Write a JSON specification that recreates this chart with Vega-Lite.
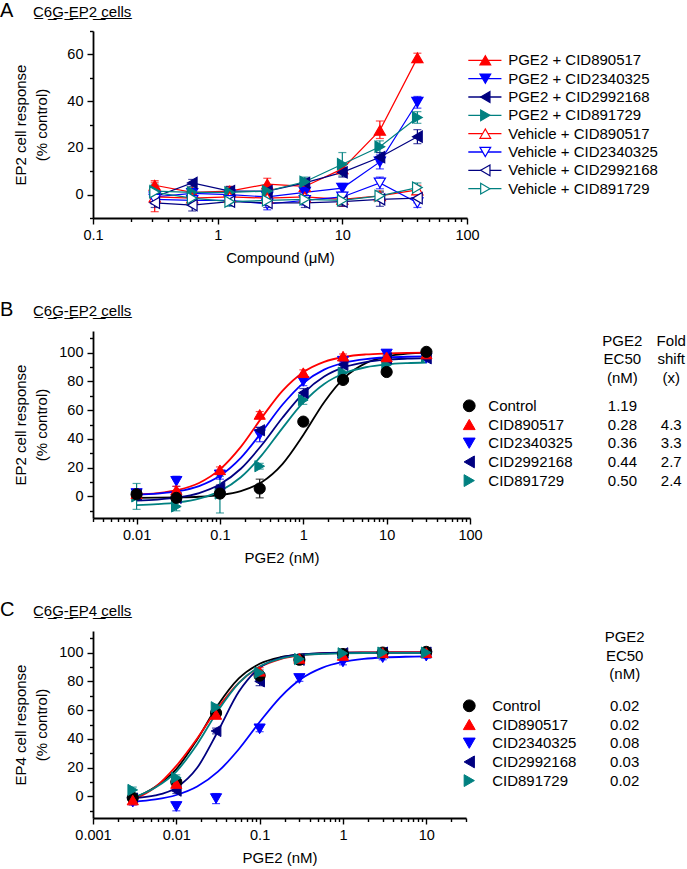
{
  "$schema": "https://vega.github.io/schema/vega-lite/v6.json",
  "background": "white",
  "padding": {"left": 0, "top": 1, "right": 0, "bottom": 0},
  "config": {
    "font": "Liberation Sans",
    "view": {"stroke": null},
    "axis": {"grid": false, "domainColor": "black", "domainWidth": 1.8, "tickColor": "black", "tickWidth": 1.4, "labelColor": "black", "labelFontSize": 14.5, "labelPadding": 4, "titleColor": "black", "titleFontSize": 15, "titleFontWeight": "normal", "labelFlush": false, "labelOverlap": false, "titleLineHeight": 21},
    "axisY": {"minExtent": 32, "maxExtent": 32, "titlePadding": 12},
    "axisX": {"titlePadding": 9},
    "legend": {"disable": true},
    "title": {"anchor": "start", "frame": "bounds", "fontWeight": "normal", "color": "black"}
  },
  "resolve": {"scale": {"color": "independent", "shape": "independent", "fill": "independent", "stroke": "independent"}},
  "datasets": {
    "a_pts": [
      {"series":"PGE2 + CID890517","conc":0.3125,"resp":4,"lo":2,"hi":6},
      {"series":"PGE2 + CID890517","conc":0.625,"resp":1,"lo":-0.5,"hi":2.5},
      {"series":"PGE2 + CID890517","conc":1.25,"resp":1.5,"lo":-0.5,"hi":3.5},
      {"series":"PGE2 + CID890517","conc":2.5,"resp":4.5,"lo":2,"hi":7},
      {"series":"PGE2 + CID890517","conc":5,"resp":3.5,"lo":1.5,"hi":5.5},
      {"series":"PGE2 + CID890517","conc":10,"resp":11,"lo":9,"hi":13},
      {"series":"PGE2 + CID890517","conc":20,"resp":27.5,"lo":24,"hi":31.5},
      {"series":"PGE2 + CID890517","conc":40,"resp":58.5,"lo":56.5,"hi":60.5},
      {"series":"PGE2 + CID2340325","conc":0.3125,"resp":-1,"lo":-3,"hi":1},
      {"series":"PGE2 + CID2340325","conc":0.625,"resp":0.5,"lo":-1.5,"hi":2.5},
      {"series":"PGE2 + CID2340325","conc":1.25,"resp":0,"lo":-2,"hi":2},
      {"series":"PGE2 + CID2340325","conc":2.5,"resp":-1,"lo":-3,"hi":1},
      {"series":"PGE2 + CID2340325","conc":5,"resp":1,"lo":-1,"hi":3},
      {"series":"PGE2 + CID2340325","conc":10,"resp":2.8,"lo":0.8,"hi":4.8},
      {"series":"PGE2 + CID2340325","conc":20,"resp":14,"lo":11,"hi":17},
      {"series":"PGE2 + CID2340325","conc":40,"resp":39.5,"lo":37,"hi":42},
      {"series":"PGE2 + CID2992168","conc":0.3125,"resp":-1,"lo":-3,"hi":1},
      {"series":"PGE2 + CID2992168","conc":0.625,"resp":5,"lo":3.5,"hi":6.5},
      {"series":"PGE2 + CID2992168","conc":1.25,"resp":1.5,"lo":-0.5,"hi":3.5},
      {"series":"PGE2 + CID2992168","conc":2.5,"resp":1.5,"lo":-0.5,"hi":3.5},
      {"series":"PGE2 + CID2992168","conc":5,"resp":5,"lo":3,"hi":7},
      {"series":"PGE2 + CID2992168","conc":10,"resp":9.5,"lo":7.5,"hi":11.5},
      {"series":"PGE2 + CID2992168","conc":20,"resp":16,"lo":14,"hi":18},
      {"series":"PGE2 + CID2992168","conc":40,"resp":24.8,"lo":21.8,"hi":27.8},
      {"series":"PGE2 + CID891729","conc":0.3125,"resp":1.5,"lo":-1.5,"hi":4.5},
      {"series":"PGE2 + CID891729","conc":0.625,"resp":1,"lo":-1,"hi":3},
      {"series":"PGE2 + CID891729","conc":1.25,"resp":1,"lo":-1,"hi":3},
      {"series":"PGE2 + CID891729","conc":2.5,"resp":1.5,"lo":-1,"hi":4},
      {"series":"PGE2 + CID891729","conc":5,"resp":5.5,"lo":3.5,"hi":7.5},
      {"series":"PGE2 + CID891729","conc":10,"resp":13,"lo":8,"hi":18},
      {"series":"PGE2 + CID891729","conc":20,"resp":20.5,"lo":18,"hi":23},
      {"series":"PGE2 + CID891729","conc":40,"resp":33,"lo":30.5,"hi":35.5},
      {"series":"Vehicle + CID890517","conc":0.3125,"resp":-1,"lo":-7.3,"hi":5.3},
      {"series":"Vehicle + CID890517","conc":0.625,"resp":-1.5,"lo":-3.5,"hi":0.5},
      {"series":"Vehicle + CID890517","conc":1.25,"resp":-1,"lo":-3,"hi":1},
      {"series":"Vehicle + CID890517","conc":2.5,"resp":-1.5,"lo":-4,"hi":1},
      {"series":"Vehicle + CID890517","conc":5,"resp":-1,"lo":-3,"hi":1},
      {"series":"Vehicle + CID890517","conc":10,"resp":-2,"lo":-5,"hi":1},
      {"series":"Vehicle + CID890517","conc":20,"resp":-0.5,"lo":-2.5,"hi":1.5},
      {"series":"Vehicle + CID890517","conc":40,"resp":2,"lo":0,"hi":4},
      {"series":"Vehicle + CID2340325","conc":0.3125,"resp":-2,"lo":-4,"hi":0},
      {"series":"Vehicle + CID2340325","conc":0.625,"resp":-2.5,"lo":-4.5,"hi":-0.5},
      {"series":"Vehicle + CID2340325","conc":1.25,"resp":-2.5,"lo":-4,"hi":-1},
      {"series":"Vehicle + CID2340325","conc":2.5,"resp":-4,"lo":-6.5,"hi":-1.5},
      {"series":"Vehicle + CID2340325","conc":5,"resp":-2.5,"lo":-4.5,"hi":-0.5},
      {"series":"Vehicle + CID2340325","conc":10,"resp":-1,"lo":-3,"hi":1},
      {"series":"Vehicle + CID2340325","conc":20,"resp":5,"lo":2.5,"hi":7.5},
      {"series":"Vehicle + CID2340325","conc":40,"resp":-3.5,"lo":-5.5,"hi":-1.5},
      {"series":"Vehicle + CID2992168","conc":0.3125,"resp":-3.5,"lo":-5.5,"hi":-1.5},
      {"series":"Vehicle + CID2992168","conc":0.625,"resp":-4.5,"lo":-7,"hi":-2},
      {"series":"Vehicle + CID2992168","conc":1.25,"resp":-3,"lo":-4.5,"hi":-1.5},
      {"series":"Vehicle + CID2992168","conc":2.5,"resp":-3.5,"lo":-5.5,"hi":-1.5},
      {"series":"Vehicle + CID2992168","conc":5,"resp":-3.5,"lo":-5.5,"hi":-1.5},
      {"series":"Vehicle + CID2992168","conc":10,"resp":-3,"lo":-5,"hi":-1},
      {"series":"Vehicle + CID2992168","conc":20,"resp":-2,"lo":-5,"hi":1},
      {"series":"Vehicle + CID2992168","conc":40,"resp":-1.5,"lo":-3.5,"hi":0.5},
      {"series":"Vehicle + CID891729","conc":0.3125,"resp":1,"lo":-2,"hi":4},
      {"series":"Vehicle + CID891729","conc":0.625,"resp":-1.5,"lo":-3.5,"hi":0.5},
      {"series":"Vehicle + CID891729","conc":1.25,"resp":-3,"lo":-5,"hi":-1},
      {"series":"Vehicle + CID891729","conc":2.5,"resp":-2.5,"lo":-4.5,"hi":-0.5},
      {"series":"Vehicle + CID891729","conc":5,"resp":-2,"lo":-4,"hi":0},
      {"series":"Vehicle + CID891729","conc":10,"resp":-2.5,"lo":-4.5,"hi":-0.5},
      {"series":"Vehicle + CID891729","conc":20,"resp":-0.5,"lo":-2.5,"hi":1.5},
      {"series":"Vehicle + CID891729","conc":40,"resp":3,"lo":1,"hi":5}
    ],
    "a_leg": [
      {"series":"PGE2 + CID890517"},{"series":"PGE2 + CID2340325"},{"series":"PGE2 + CID2992168"},{"series":"PGE2 + CID891729"},
      {"series":"Vehicle + CID890517"},{"series":"Vehicle + CID2340325"},{"series":"Vehicle + CID2992168"},{"series":"Vehicle + CID891729"}
    ],
    "b_pts": [
      {"series":"CID891729","conc":0.01,"resp":0,"lo":-9,"hi":9},
      {"series":"CID891729","conc":0.03,"resp":-7,"lo":-10,"hi":-4},
      {"series":"CID891729","conc":0.1,"resp":2,"lo":-11.5,"hi":14},
      {"series":"CID891729","conc":0.3,"resp":21,"lo":19,"hi":23},
      {"series":"CID891729","conc":1,"resp":67,"lo":64,"hi":70},
      {"series":"CID891729","conc":3,"resp":86,"lo":84,"hi":88},
      {"series":"CID891729","conc":10,"resp":91.5,"lo":89.5,"hi":93.5},
      {"series":"CID891729","conc":30,"resp":97,"lo":95.5,"hi":98.5},
      {"series":"CID2340325","conc":0.01,"resp":2,"lo":0,"hi":4},
      {"series":"CID2340325","conc":0.03,"resp":10.5,"lo":7,"hi":14},
      {"series":"CID2340325","conc":0.1,"resp":15,"lo":12,"hi":18},
      {"series":"CID2340325","conc":0.3,"resp":43,"lo":38,"hi":48},
      {"series":"CID2340325","conc":1,"resp":80,"lo":77,"hi":83},
      {"series":"CID2340325","conc":3,"resp":94,"lo":92,"hi":96},
      {"series":"CID2340325","conc":10,"resp":99,"lo":96,"hi":102},
      {"series":"CID2340325","conc":30,"resp":96,"lo":94.5,"hi":97.5},
      {"series":"CID2992168","conc":0.01,"resp":1,"lo":-1,"hi":3},
      {"series":"CID2992168","conc":0.03,"resp":-1,"lo":-3,"hi":1},
      {"series":"CID2992168","conc":0.1,"resp":6,"lo":4,"hi":8},
      {"series":"CID2992168","conc":0.3,"resp":46,"lo":44,"hi":48},
      {"series":"CID2992168","conc":1,"resp":72,"lo":69,"hi":75},
      {"series":"CID2992168","conc":3,"resp":91.5,"lo":89.5,"hi":93.5},
      {"series":"CID2992168","conc":10,"resp":96,"lo":94,"hi":98},
      {"series":"CID2992168","conc":30,"resp":96,"lo":94.5,"hi":97.5},
      {"series":"CID890517","conc":0.01,"resp":2,"lo":-1,"hi":5},
      {"series":"CID890517","conc":0.03,"resp":4.5,"lo":2,"hi":7},
      {"series":"CID890517","conc":0.1,"resp":18.5,"lo":16.5,"hi":20.5},
      {"series":"CID890517","conc":0.3,"resp":57,"lo":55,"hi":59},
      {"series":"CID890517","conc":1,"resp":86,"lo":84,"hi":88},
      {"series":"CID890517","conc":3,"resp":97.5,"lo":96,"hi":99},
      {"series":"CID890517","conc":10,"resp":97,"lo":95,"hi":99},
      {"series":"CID890517","conc":30,"resp":99,"lo":97.5,"hi":100.5},
      {"series":"Control","conc":0.01,"resp":1.5,"lo":-0.5,"hi":3.5},
      {"series":"Control","conc":0.03,"resp":-1,"lo":-3,"hi":1},
      {"series":"Control","conc":0.1,"resp":2,"lo":0,"hi":4},
      {"series":"Control","conc":0.3,"resp":5.5,"lo":-1,"hi":12},
      {"series":"Control","conc":1,"resp":52,"lo":50,"hi":54},
      {"series":"Control","conc":3,"resp":81,"lo":79,"hi":83},
      {"series":"Control","conc":10,"resp":86.5,"lo":84.5,"hi":88.5},
      {"series":"Control","conc":30,"resp":100.5,"lo":99,"hi":102}
    ],
    "b_fit": [
      {"series":"Control","conc":0.01,"resp":-0.95},{"series":"Control","conc":0.0178,"resp":-0.88},{"series":"Control","conc":0.0316,"resp":-0.69},{"series":"Control","conc":0.0562,"resp":-0.24},{"series":"Control","conc":0.1,"resp":0.9},{"series":"Control","conc":0.178,"resp":3.63},{"series":"Control","conc":0.316,"resp":9.87},{"series":"Control","conc":0.562,"resp":22.5},{"series":"Control","conc":1,"resp":42.7},{"series":"Control","conc":1.78,"resp":65.5},{"series":"Control","conc":3.16,"resp":82.9},{"series":"Control","conc":5.62,"resp":92.7},{"series":"Control","conc":10,"resp":97.2},{"series":"Control","conc":17.8,"resp":99.2},{"series":"Control","conc":30,"resp":99.9},
      {"series":"CID890517","conc":0.01,"resp":1.29},{"series":"CID890517","conc":0.0178,"resp":2.3},{"series":"CID890517","conc":0.0316,"resp":4.55},{"series":"CID890517","conc":0.0562,"resp":9.35},{"series":"CID890517","conc":0.1,"resp":18.76},{"series":"CID890517","conc":0.178,"resp":34.4},{"series":"CID890517","conc":0.316,"resp":54.6},{"series":"CID890517","conc":0.562,"resp":73.4},{"series":"CID890517","conc":1,"resp":86.4},{"series":"CID890517","conc":1.78,"resp":93.6},{"series":"CID890517","conc":3.16,"resp":97.1},{"series":"CID890517","conc":5.62,"resp":98.7},{"series":"CID890517","conc":10,"resp":99.4},{"series":"CID890517","conc":17.8,"resp":99.8},{"series":"CID890517","conc":30,"resp":99.9},
      {"series":"CID2340325","conc":0.01,"resp":1.14},{"series":"CID2340325","conc":0.0178,"resp":1.92},{"series":"CID2340325","conc":0.0316,"resp":3.62},{"series":"CID2340325","conc":0.0562,"resp":7.22},{"series":"CID2340325","conc":0.1,"resp":14.36},{"series":"CID2340325","conc":0.178,"resp":26.85},{"series":"CID2340325","conc":0.316,"resp":44.6},{"series":"CID2340325","conc":0.562,"resp":63.7},{"series":"CID2340325","conc":1,"resp":78.8},{"series":"CID2340325","conc":1.78,"resp":88.15},{"series":"CID2340325","conc":3.16,"resp":93.1},{"series":"CID2340325","conc":5.62,"resp":95.5},{"series":"CID2340325","conc":10,"resp":96.6},{"series":"CID2340325","conc":17.8,"resp":97.1},{"series":"CID2340325","conc":30,"resp":97.3},
      {"series":"CID2992168","conc":0.01,"resp":-2.9},{"series":"CID2992168","conc":0.0178,"resp":-2.2},{"series":"CID2992168","conc":0.0316,"resp":-0.71},{"series":"CID2992168","conc":0.0562,"resp":2.36},{"series":"CID2992168","conc":0.1,"resp":8.43},{"series":"CID2992168","conc":0.178,"resp":19.25},{"series":"CID2992168","conc":0.316,"resp":35.56},{"series":"CID2992168","conc":0.562,"resp":54.7},{"series":"CID2992168","conc":1,"resp":71.7},{"series":"CID2992168","conc":1.78,"resp":83.3},{"series":"CID2992168","conc":3.16,"resp":90},{"series":"CID2992168","conc":5.62,"resp":93.4},{"series":"CID2992168","conc":10,"resp":95.05},{"series":"CID2992168","conc":17.8,"resp":95.8},{"series":"CID2992168","conc":30,"resp":96.2},
      {"series":"CID891729","conc":0.01,"resp":-6},{"series":"CID891729","conc":0.0178,"resp":-5.4},{"series":"CID891729","conc":0.0316,"resp":-4.15},{"series":"CID891729","conc":0.0562,"resp":-1.52},{"series":"CID891729","conc":0.1,"resp":3.71},{"series":"CID891729","conc":0.178,"resp":13.3},{"series":"CID891729","conc":0.316,"resp":28.5},{"series":"CID891729","conc":0.562,"resp":47.5},{"series":"CID891729","conc":1,"resp":65.3},{"series":"CID891729","conc":1.78,"resp":78.2},{"series":"CID891729","conc":3.16,"resp":85.8},{"series":"CID891729","conc":5.62,"resp":89.8},{"series":"CID891729","conc":10,"resp":91.8},{"series":"CID891729","conc":17.8,"resp":92.7},{"series":"CID891729","conc":30,"resp":93.1}
    ],
    "b_leg": [
      {"series":"Control","ec50":"1.19","fold":""},
      {"series":"CID890517","ec50":"0.28","fold":"4.3"},
      {"series":"CID2340325","ec50":"0.36","fold":"3.3"},
      {"series":"CID2992168","ec50":"0.44","fold":"2.7"},
      {"series":"CID891729","ec50":"0.50","fold":"2.4"}
    ],
    "c_pts": [
      {"series":"CID2340325","conc":0.003,"resp":-4,"lo":-6,"hi":-2},
      {"series":"CID2340325","conc":0.01,"resp":-7,"lo":-10,"hi":-4},
      {"series":"CID2340325","conc":0.03,"resp":-1.5,"lo":-5,"hi":2},
      {"series":"CID2340325","conc":0.1,"resp":47,"lo":45,"hi":49},
      {"series":"CID2340325","conc":0.3,"resp":82,"lo":80,"hi":84},
      {"series":"CID2340325","conc":1,"resp":93.5,"lo":91.5,"hi":95.5},
      {"series":"CID2340325","conc":3,"resp":96.5,"lo":95,"hi":98},
      {"series":"CID2340325","conc":10,"resp":97.5,"lo":96,"hi":99},
      {"series":"CID2992168","conc":0.003,"resp":-1.5,"lo":-3.5,"hi":0.5},
      {"series":"CID2992168","conc":0.01,"resp":4,"lo":2,"hi":6},
      {"series":"CID2992168","conc":0.03,"resp":45.5,"lo":43.5,"hi":47.5},
      {"series":"CID2992168","conc":0.1,"resp":80,"lo":77,"hi":83},
      {"series":"CID2992168","conc":0.3,"resp":95,"lo":93,"hi":97},
      {"series":"CID2992168","conc":1,"resp":99.5,"lo":98.5,"hi":100.5},
      {"series":"CID2992168","conc":3,"resp":100,"lo":99,"hi":101},
      {"series":"CID2992168","conc":10,"resp":100,"lo":99,"hi":101},
      {"series":"Control","conc":0.003,"resp":-1,"lo":-3,"hi":1},
      {"series":"Control","conc":0.01,"resp":10,"lo":8,"hi":12},
      {"series":"Control","conc":0.03,"resp":58,"lo":56,"hi":60},
      {"series":"Control","conc":0.1,"resp":84,"lo":81,"hi":87},
      {"series":"Control","conc":0.3,"resp":95,"lo":93,"hi":97},
      {"series":"Control","conc":1,"resp":99,"lo":98,"hi":100},
      {"series":"Control","conc":3,"resp":100,"lo":99,"hi":101},
      {"series":"Control","conc":10,"resp":100.5,"lo":99.5,"hi":101.5},
      {"series":"CID890517","conc":0.003,"resp":-2.5,"lo":-4.5,"hi":-0.5},
      {"series":"CID890517","conc":0.01,"resp":9,"lo":6.5,"hi":11.5},
      {"series":"CID890517","conc":0.03,"resp":57,"lo":54.5,"hi":59.5},
      {"series":"CID890517","conc":0.1,"resp":87,"lo":84.5,"hi":89.5},
      {"series":"CID890517","conc":0.3,"resp":96,"lo":94,"hi":98},
      {"series":"CID890517","conc":1,"resp":98,"lo":96,"hi":100},
      {"series":"CID890517","conc":3,"resp":100,"lo":99,"hi":101},
      {"series":"CID890517","conc":10,"resp":100,"lo":99,"hi":101},
      {"series":"CID891729","conc":0.003,"resp":4.5,"lo":2.5,"hi":6.5},
      {"series":"CID891729","conc":0.01,"resp":13,"lo":11,"hi":15},
      {"series":"CID891729","conc":0.03,"resp":62,"lo":60,"hi":64},
      {"series":"CID891729","conc":0.1,"resp":86,"lo":84,"hi":88},
      {"series":"CID891729","conc":0.3,"resp":95.5,"lo":93.5,"hi":97.5},
      {"series":"CID891729","conc":1,"resp":99.5,"lo":98.5,"hi":100.5},
      {"series":"CID891729","conc":3,"resp":100,"lo":99,"hi":101},
      {"series":"CID891729","conc":10,"resp":100,"lo":99,"hi":101}
    ],
    "c_fit": [
      {"series":"Control","conc":0.003,"resp":-1.5},{"series":"Control","conc":0.00562,"resp":6.8},{"series":"Control","conc":0.01,"resp":19},{"series":"Control","conc":0.0178,"resp":39.6},{"series":"Control","conc":0.0316,"resp":63.5},{"series":"Control","conc":0.0562,"resp":82},{"series":"Control","conc":0.1,"resp":92.2},{"series":"Control","conc":0.178,"resp":96.8},{"series":"Control","conc":0.316,"resp":98.7},{"series":"Control","conc":0.562,"resp":99.5},{"series":"Control","conc":1,"resp":99.8},{"series":"Control","conc":1.78,"resp":99.9},{"series":"Control","conc":3.16,"resp":100},{"series":"Control","conc":5.62,"resp":100},{"series":"Control","conc":10,"resp":100},
      {"series":"CID890517","conc":0.003,"resp":-2.5},{"series":"CID890517","conc":0.00562,"resp":6.5},{"series":"CID890517","conc":0.01,"resp":21.2},{"series":"CID890517","conc":0.0178,"resp":40.2},{"series":"CID890517","conc":0.0316,"resp":61.6},{"series":"CID890517","conc":0.0562,"resp":79},{"series":"CID890517","conc":0.1,"resp":89.9},{"series":"CID890517","conc":0.178,"resp":95.5},{"series":"CID890517","conc":0.316,"resp":98.2},{"series":"CID890517","conc":0.562,"resp":99.4},{"series":"CID890517","conc":1,"resp":99.9},{"series":"CID890517","conc":1.78,"resp":100.1},{"series":"CID890517","conc":3.16,"resp":100.2},{"series":"CID890517","conc":5.62,"resp":100.3},{"series":"CID890517","conc":10,"resp":100.3},
      {"series":"CID2340325","conc":0.003,"resp":-3.7},{"series":"CID2340325","conc":0.00562,"resp":-2.1},{"series":"CID2340325","conc":0.01,"resp":0.98},{"series":"CID2340325","conc":0.0178,"resp":6.86},{"series":"CID2340325","conc":0.0316,"resp":17.2},{"series":"CID2340325","conc":0.0562,"resp":32.8},{"series":"CID2340325","conc":0.1,"resp":51.7},{"series":"CID2340325","conc":0.178,"resp":69.1},{"series":"CID2340325","conc":0.316,"resp":81.8},{"series":"CID2340325","conc":0.562,"resp":89.4},{"series":"CID2340325","conc":1,"resp":93.5},{"series":"CID2340325","conc":1.78,"resp":95.6},{"series":"CID2340325","conc":3.16,"resp":96.6},{"series":"CID2340325","conc":5.62,"resp":97.1},{"series":"CID2340325","conc":10,"resp":97.3},
      {"series":"CID2992168","conc":0.003,"resp":-1.2},{"series":"CID2992168","conc":0.00562,"resp":0.7},{"series":"CID2992168","conc":0.01,"resp":6.1},{"series":"CID2992168","conc":0.0178,"resp":19.9},{"series":"CID2992168","conc":0.0316,"resp":45.3},{"series":"CID2992168","conc":0.0562,"resp":72.7},{"series":"CID2992168","conc":0.1,"resp":89.4},{"series":"CID2992168","conc":0.178,"resp":96.4},{"series":"CID2992168","conc":0.316,"resp":98.8},{"series":"CID2992168","conc":0.562,"resp":99.6},{"series":"CID2992168","conc":1,"resp":99.9},{"series":"CID2992168","conc":1.78,"resp":100},{"series":"CID2992168","conc":3.16,"resp":100},{"series":"CID2992168","conc":5.62,"resp":100},{"series":"CID2992168","conc":10,"resp":100},
      {"series":"CID891729","conc":0.003,"resp":-1},{"series":"CID891729","conc":0.00562,"resp":6.2},{"series":"CID891729","conc":0.01,"resp":17.3},{"series":"CID891729","conc":0.0178,"resp":36.3},{"series":"CID891729","conc":0.0316,"resp":59.6},{"series":"CID891729","conc":0.0562,"resp":78.8},{"series":"CID891729","conc":0.1,"resp":90.3},{"series":"CID891729","conc":0.178,"resp":95.8},{"series":"CID891729","conc":0.316,"resp":98.2},{"series":"CID891729","conc":0.562,"resp":99.1},{"series":"CID891729","conc":1,"resp":99.5},{"series":"CID891729","conc":1.78,"resp":99.7},{"series":"CID891729","conc":3.16,"resp":99.8},{"series":"CID891729","conc":5.62,"resp":99.8},{"series":"CID891729","conc":10,"resp":99.8}
    ],
    "c_leg": [
      {"series":"Control","ec50":"0.02"},
      {"series":"CID890517","ec50":"0.02"},
      {"series":"CID2340325","ec50":"0.08"},
      {"series":"CID2992168","ec50":"0.03"},
      {"series":"CID891729","ec50":"0.02"}
    ]
  },
  "spacing": 34,
  "vconcat": [
    {
      "title": {"text": "A", "dx": -13, "fontSize": 20, "offset": -16},
      "hconcat": [
        {
          "width": 374, "height": 187,
          "title": {"text": "C\u03326\u0332G\u0332-\u0332E\u0332P\u03322\u0332 \u0332c\u0332e\u0332l\u0332l\u0332s\u0332", "dx": 20, "fontSize": 15, "offset": 3},
          "data": {"name": "a_pts"},
          "encoding": {
            "x": {"field": "conc", "type": "quantitative", "scale": {"type": "log", "domain": [0.1, 100], "nice": false},
              "axis": {"title": "Compound (\u03bcM)", "values": [0.1,0.2,0.3,0.4,0.5,0.6,0.7,0.8,0.9,1,2,3,4,5,6,7,8,9,10,20,30,40,50,60,70,80,90,100],
                "labelExpr": "abs(log(datum.value)/LN10 - round(log(datum.value)/LN10)) < 0.000001 ? format(datum.value, '~g') : ''",
                "tickSize": {"condition": {"test": "abs(log(datum.value)/LN10 - round(log(datum.value)/LN10)) < 0.000001", "value": 6}, "value": 3.5}}},
            "y": {"field": "resp", "type": "quantitative", "scale": {"domain": [-10, 70], "nice": false, "zero": false},
              "axis": {"title": ["EP2 cell response", "(% control)"], "values": [-10,0,10,20,30,40,50,60,70],
                "labelExpr": "datum.value % 20 == 0 ? datum.label : ''",
                "tickSize": {"condition": {"test": "datum.value % 20 == 0", "value": 6}, "value": 3.5}}}
          },
          "layer": [
            {"mark": {"type": "line", "strokeWidth": 1.2},
             "encoding": {"color": {"field": "series", "type": "nominal", "legend": null,
               "scale": {"domain": ["PGE2 + CID890517","PGE2 + CID2340325","PGE2 + CID2992168","PGE2 + CID891729","Vehicle + CID890517","Vehicle + CID2340325","Vehicle + CID2992168","Vehicle + CID891729"],
                         "range": ["#ff0000","#0000ff","#000080","#008080","#ff0000","#0000ff","#000080","#008080"]}}}},
            {"mark": {"type": "errorbar", "ticks": {"size": 8}, "thickness": 1.2},
             "encoding": {
               "y": {"field": "lo", "type": "quantitative", "scale": {"domain": [-10, 70], "nice": false, "zero": false}},
               "y2": {"field": "hi"},
               "color": {"field": "series", "type": "nominal", "legend": null}}},
            {"mark": {"type": "point", "filled": true, "opacity": 1, "size": 125, "strokeWidth": 1.2},
             "encoding": {
               "shape": {"field": "series", "type": "nominal", "legend": null,
                 "scale": {"domain": ["PGE2 + CID890517","PGE2 + CID2340325","PGE2 + CID2992168","PGE2 + CID891729","Vehicle + CID890517","Vehicle + CID2340325","Vehicle + CID2992168","Vehicle + CID891729"],
                           "range": ["triangle-up","triangle-down","triangle-left","triangle-right","triangle-up","triangle-down","triangle-left","triangle-right"]}},
               "stroke": {"field": "series", "type": "nominal", "legend": null,
                 "scale": {"domain": ["PGE2 + CID890517","PGE2 + CID2340325","PGE2 + CID2992168","PGE2 + CID891729","Vehicle + CID890517","Vehicle + CID2340325","Vehicle + CID2992168","Vehicle + CID891729"],
                           "range": ["#ff0000","#0000ff","#000080","#008080","#ff0000","#0000ff","#000080","#008080"]}},
               "fill": {"field": "series", "type": "nominal", "legend": null,
                 "scale": {"domain": ["PGE2 + CID890517","PGE2 + CID2340325","PGE2 + CID2992168","PGE2 + CID891729","Vehicle + CID890517","Vehicle + CID2340325","Vehicle + CID2992168","Vehicle + CID891729"],
                           "range": ["#ff0000","#0000ff","#000080","#008080","#ffffff","#ffffff","#ffffff","#ffffff"]}}}}
          ]
        },
        {
          "width": 218, "height": 187,
          "data": {"name": "a_leg"},
          "encoding": {"y": {"field": "series", "type": "nominal", "axis": null,
            "scale": {"type": "point", "padding": 0.6, "domain": ["_top","PGE2 + CID890517","PGE2 + CID2340325","PGE2 + CID2992168","PGE2 + CID891729","Vehicle + CID890517","Vehicle + CID2340325","Vehicle + CID2992168","Vehicle + CID891729","_end"]}}},
          "layer": [
            {"mark": {"type": "rule", "strokeWidth": 1.3},
             "encoding": {"x": {"datum": 0.6, "type": "quantitative", "scale": {"domain": [0, 100], "nice": false, "zero": false}, "axis": null}, "x2": {"datum": 15.8},
               "color": {"field": "series", "type": "nominal", "legend": null,
                 "scale": {"domain": ["PGE2 + CID890517","PGE2 + CID2340325","PGE2 + CID2992168","PGE2 + CID891729","Vehicle + CID890517","Vehicle + CID2340325","Vehicle + CID2992168","Vehicle + CID891729"],
                           "range": ["#ff0000","#0000ff","#000080","#008080","#ff0000","#0000ff","#000080","#008080"]}}}},
            {"mark": {"type": "point", "filled": true, "opacity": 1, "size": 115, "strokeWidth": 1.2},
             "encoding": {"x": {"datum": 8.4, "type": "quantitative", "scale": {"domain": [0, 100], "nice": false, "zero": false}, "axis": null},
               "shape": {"field": "series", "type": "nominal", "legend": null,
                 "scale": {"domain": ["PGE2 + CID890517","PGE2 + CID2340325","PGE2 + CID2992168","PGE2 + CID891729","Vehicle + CID890517","Vehicle + CID2340325","Vehicle + CID2992168","Vehicle + CID891729"],
                           "range": ["triangle-up","triangle-down","triangle-left","triangle-right","triangle-up","triangle-down","triangle-left","triangle-right"]}},
               "stroke": {"field": "series", "type": "nominal", "legend": null,
                 "scale": {"domain": ["PGE2 + CID890517","PGE2 + CID2340325","PGE2 + CID2992168","PGE2 + CID891729","Vehicle + CID890517","Vehicle + CID2340325","Vehicle + CID2992168","Vehicle + CID891729"],
                           "range": ["#ff0000","#0000ff","#000080","#008080","#ff0000","#0000ff","#000080","#008080"]}},
               "fill": {"field": "series", "type": "nominal", "legend": null,
                 "scale": {"domain": ["PGE2 + CID890517","PGE2 + CID2340325","PGE2 + CID2992168","PGE2 + CID891729","Vehicle + CID890517","Vehicle + CID2340325","Vehicle + CID2992168","Vehicle + CID891729"],
                           "range": ["#ff0000","#0000ff","#000080","#008080","#ffffff","#ffffff","#ffffff","#ffffff"]}}}},
            {"mark": {"type": "text", "align": "left", "baseline": "middle", "fontSize": 15, "color": "black"},
             "encoding": {"x": {"datum": 18.9, "type": "quantitative", "scale": {"domain": [0, 100], "nice": false, "zero": false}, "axis": null},
               "text": {"field": "series"}}}
          ]
        }
      ],
      "spacing": 0,
      "bounds": "flush"
    },
    {
      "title": {"text": "B", "dx": -13, "fontSize": 20, "offset": -16},
      "hconcat": [
        {
          "width": 377, "height": 187,
          "title": {"text": "C\u03326\u0332G\u0332-\u0332E\u0332P\u03322\u0332 \u0332c\u0332e\u0332l\u0332l\u0332s\u0332", "dx": 20, "fontSize": 15, "offset": 11},
          "encoding": {
            "x": {"field": "conc", "type": "quantitative", "scale": {"type": "log", "domain": [0.003, 100], "nice": false},
              "axis": {"title": "PGE2 (nM)", "values": [0.003,0.004,0.005,0.006,0.007,0.008,0.009,0.01,0.02,0.03,0.04,0.05,0.06,0.07,0.08,0.09,0.1,0.2,0.3,0.4,0.5,0.6,0.7,0.8,0.9,1,2,3,4,5,6,7,8,9,10,20,30,40,50,60,70,80,90,100],
                "labelExpr": "abs(log(datum.value)/LN10 - round(log(datum.value)/LN10)) < 0.000001 ? format(datum.value, '~g') : ''",
                "tickSize": {"condition": {"test": "abs(log(datum.value)/LN10 - round(log(datum.value)/LN10)) < 0.000001", "value": 6}, "value": 3.5}}},
            "y": {"field": "resp", "type": "quantitative", "scale": {"domain": [-15, 115], "nice": false, "zero": false},
              "axis": {"title": ["EP2 cell response", "(% control)"], "values": [-10,0,10,20,30,40,50,60,70,80,90,100,110],
                "labelExpr": "datum.value % 20 == 0 ? datum.label : ''",
                "tickSize": {"condition": {"test": "datum.value % 20 == 0", "value": 6}, "value": 3.5}}}
          },
          "layer": [
            {"data": {"name": "b_fit"}, "mark": {"type": "line", "strokeWidth": 1.8, "interpolate": "monotone"},
             "encoding": {"color": {"field": "series", "type": "nominal", "legend": null,
               "scale": {"domain": ["Control","CID890517","CID2340325","CID2992168","CID891729"], "range": ["#000000","#ff0000","#0000ff","#000080","#008080"]}}}},
            {"data": {"name": "b_pts"}, "mark": {"type": "errorbar", "ticks": {"size": 8}, "thickness": 1.2},
             "encoding": {
               "y": {"field": "lo", "type": "quantitative", "scale": {"domain": [-15, 115], "nice": false, "zero": false}},
               "y2": {"field": "hi"},
               "color": {"field": "series", "type": "nominal", "legend": null}}},
            {"data": {"name": "b_pts"}, "mark": {"type": "point", "filled": true, "opacity": 1, "size": 125, "strokeWidth": 1},
             "encoding": {
               "shape": {"field": "series", "type": "nominal", "legend": null,
                 "scale": {"domain": ["Control","CID890517","CID2340325","CID2992168","CID891729"], "range": ["circle","triangle-up","triangle-down","triangle-left","triangle-right"]}},
               "fill": {"field": "series", "type": "nominal", "legend": null,
                 "scale": {"domain": ["Control","CID890517","CID2340325","CID2992168","CID891729"], "range": ["#000000","#ff0000","#0000ff","#000080","#008080"]}},
               "stroke": {"field": "series", "type": "nominal", "legend": null,
                 "scale": {"domain": ["Control","CID890517","CID2340325","CID2992168","CID891729"], "range": ["#000000","#ff0000","#0000ff","#000080","#008080"]}}}}
          ]
        },
        {
          "width": 218, "height": 187,
          "data": {"name": "b_leg"},
          "encoding": {"y": {"field": "series", "type": "nominal", "axis": null,
            "scale": {"type": "point", "padding": 1, "domain": ["_0","_1","hdr","Control","CID890517","CID2340325","CID2992168","CID891729","_9"]}}},
          "layer": [
            {"mark": {"type": "point", "filled": true, "opacity": 1, "size": 140, "strokeWidth": 1},
             "encoding": {"x": {"datum": -0.35, "type": "quantitative", "scale": {"domain": [0, 100], "nice": false, "zero": false}, "axis": null},
               "shape": {"field": "series", "type": "nominal", "legend": null,
                 "scale": {"domain": ["Control","CID890517","CID2340325","CID2992168","CID891729"], "range": ["circle","triangle-up","triangle-down","triangle-left","triangle-right"]}},
               "fill": {"field": "series", "type": "nominal", "legend": null,
                 "scale": {"domain": ["Control","CID890517","CID2340325","CID2992168","CID891729"], "range": ["#000000","#ff0000","#0000ff","#000080","#008080"]}},
               "stroke": {"field": "series", "type": "nominal", "legend": null,
                 "scale": {"domain": ["Control","CID890517","CID2340325","CID2992168","CID891729"], "range": ["#000000","#ff0000","#0000ff","#000080","#008080"]}}}},
            {"mark": {"type": "text", "align": "left", "baseline": "middle", "fontSize": 15, "color": "black"},
             "encoding": {"x": {"datum": 8.4, "type": "quantitative", "scale": {"domain": [0, 100], "nice": false, "zero": false}, "axis": null},
               "text": {"field": "series"}}},
            {"mark": {"type": "text", "align": "center", "baseline": "middle", "fontSize": 15, "color": "black"},
             "encoding": {"x": {"datum": 69.9, "type": "quantitative", "scale": {"domain": [0, 100], "nice": false, "zero": false}, "axis": null},
               "text": {"field": "ec50"}}},
            {"mark": {"type": "text", "align": "center", "baseline": "middle", "fontSize": 15, "color": "black"},
             "encoding": {"x": {"datum": 92.3, "type": "quantitative", "scale": {"domain": [0, 100], "nice": false, "zero": false}, "axis": null},
               "text": {"field": "fold"}}},
            {"data": {"values": [{}]},
             "mark": {"type": "text", "text": ["PGE2", "EC50", "(nM)"], "align": "center", "baseline": "middle", "lineHeight": 18.5, "fontSize": 15, "color": "black", "dy": -46.5},
             "encoding": {"x": {"datum": 69.9, "type": "quantitative", "scale": {"domain": [0, 100], "nice": false, "zero": false}, "axis": null},
               "y": {"datum": "hdr", "type": "nominal"}}},
            {"data": {"values": [{}]},
             "mark": {"type": "text", "text": ["Fold", "shift", "(x)"], "align": "center", "baseline": "middle", "lineHeight": 18.5, "fontSize": 15, "color": "black", "dy": -46.5},
             "encoding": {"x": {"datum": 92.3, "type": "quantitative", "scale": {"domain": [0, 100], "nice": false, "zero": false}, "axis": null},
               "y": {"datum": "hdr", "type": "nominal"}}}
          ]
        }
      ],
      "spacing": 0,
      "bounds": "flush"
    },
    {
      "title": {"text": "C", "dx": -13, "fontSize": 20, "offset": -16},
      "hconcat": [
        {
          "width": 373, "height": 187,
          "title": {"text": "C\u03326\u0332G\u0332-\u0332E\u0332P\u03324\u0332 \u0332c\u0332e\u0332l\u0332l\u0332s\u0332", "dx": 20, "fontSize": 15, "offset": 11},
          "encoding": {
            "x": {"field": "conc", "type": "quantitative", "scale": {"type": "log", "domain": [0.001, 30], "nice": false},
              "axis": {"title": "PGE2 (nM)", "values": [0.001,0.002,0.003,0.004,0.005,0.006,0.007,0.008,0.009,0.01,0.02,0.03,0.04,0.05,0.06,0.07,0.08,0.09,0.1,0.2,0.3,0.4,0.5,0.6,0.7,0.8,0.9,1,2,3,4,5,6,7,8,9,10,20,30],
                "labelExpr": "abs(log(datum.value)/LN10 - round(log(datum.value)/LN10)) < 0.000001 ? format(datum.value, '~g') : ''",
                "tickSize": {"condition": {"test": "abs(log(datum.value)/LN10 - round(log(datum.value)/LN10)) < 0.000001", "value": 6}, "value": 3.5}}},
            "y": {"field": "resp", "type": "quantitative", "scale": {"domain": [-15, 115], "nice": false, "zero": false},
              "axis": {"title": ["EP4 cell response", "(% control)"], "values": [-10,0,10,20,30,40,50,60,70,80,90,100,110],
                "labelExpr": "datum.value % 20 == 0 ? datum.label : ''",
                "tickSize": {"condition": {"test": "datum.value % 20 == 0", "value": 6}, "value": 3.5}}}
          },
          "layer": [
            {"data": {"name": "c_fit"}, "mark": {"type": "line", "strokeWidth": 1.8, "interpolate": "monotone"},
             "encoding": {"color": {"field": "series", "type": "nominal", "legend": null,
               "scale": {"domain": ["Control","CID890517","CID2340325","CID2992168","CID891729"], "range": ["#000000","#ff0000","#0000ff","#000080","#008080"]}}}},
            {"data": {"name": "c_pts"}, "mark": {"type": "errorbar", "ticks": {"size": 8}, "thickness": 1.2},
             "encoding": {
               "y": {"field": "lo", "type": "quantitative", "scale": {"domain": [-15, 115], "nice": false, "zero": false}},
               "y2": {"field": "hi"},
               "color": {"field": "series", "type": "nominal", "legend": null}}},
            {"data": {"name": "c_pts"}, "mark": {"type": "point", "filled": true, "opacity": 1, "size": 125, "strokeWidth": 1},
             "encoding": {
               "shape": {"field": "series", "type": "nominal", "legend": null,
                 "scale": {"domain": ["Control","CID890517","CID2340325","CID2992168","CID891729"], "range": ["circle","triangle-up","triangle-down","triangle-left","triangle-right"]}},
               "fill": {"field": "series", "type": "nominal", "legend": null,
                 "scale": {"domain": ["Control","CID890517","CID2340325","CID2992168","CID891729"], "range": ["#000000","#ff0000","#0000ff","#000080","#008080"]}},
               "stroke": {"field": "series", "type": "nominal", "legend": null,
                 "scale": {"domain": ["Control","CID890517","CID2340325","CID2992168","CID891729"], "range": ["#000000","#ff0000","#0000ff","#000080","#008080"]}}}}
          ]
        },
        {
          "width": 218, "height": 187,
          "data": {"name": "c_leg"},
          "encoding": {"y": {"field": "series", "type": "nominal", "axis": null,
            "scale": {"type": "point", "padding": 1, "domain": ["_0","_1","hdr","Control","CID890517","CID2340325","CID2992168","CID891729","_9"]}}},
          "layer": [
            {"mark": {"type": "point", "filled": true, "opacity": 1, "size": 140, "strokeWidth": 1},
             "encoding": {"x": {"datum": 1.5, "type": "quantitative", "scale": {"domain": [0, 100], "nice": false, "zero": false}, "axis": null},
               "shape": {"field": "series", "type": "nominal", "legend": null,
                 "scale": {"domain": ["Control","CID890517","CID2340325","CID2992168","CID891729"], "range": ["circle","triangle-up","triangle-down","triangle-left","triangle-right"]}},
               "fill": {"field": "series", "type": "nominal", "legend": null,
                 "scale": {"domain": ["Control","CID890517","CID2340325","CID2992168","CID891729"], "range": ["#000000","#ff0000","#0000ff","#000080","#008080"]}},
               "stroke": {"field": "series", "type": "nominal", "legend": null,
                 "scale": {"domain": ["Control","CID890517","CID2340325","CID2992168","CID891729"], "range": ["#000000","#ff0000","#0000ff","#000080","#008080"]}}}},
            {"mark": {"type": "text", "align": "left", "baseline": "middle", "fontSize": 15, "color": "black"},
             "encoding": {"x": {"datum": 12.0, "type": "quantitative", "scale": {"domain": [0, 100], "nice": false, "zero": false}, "axis": null},
               "text": {"field": "series"}}},
            {"mark": {"type": "text", "align": "center", "baseline": "middle", "fontSize": 15, "color": "black"},
             "encoding": {"x": {"datum": 72.8, "type": "quantitative", "scale": {"domain": [0, 100], "nice": false, "zero": false}, "axis": null},
               "text": {"field": "ec50"}}},
            {"data": {"values": [{}]},
             "mark": {"type": "text", "text": ["PGE2", "EC50", "(nM)"], "align": "center", "baseline": "middle", "lineHeight": 18.5, "fontSize": 15, "color": "black", "dy": -50},
             "encoding": {"x": {"datum": 72.8, "type": "quantitative", "scale": {"domain": [0, 100], "nice": false, "zero": false}, "axis": null},
               "y": {"datum": "hdr", "type": "nominal"}}}
          ]
        }
      ],
      "spacing": 0,
      "bounds": "flush"
    }
  ]
}
